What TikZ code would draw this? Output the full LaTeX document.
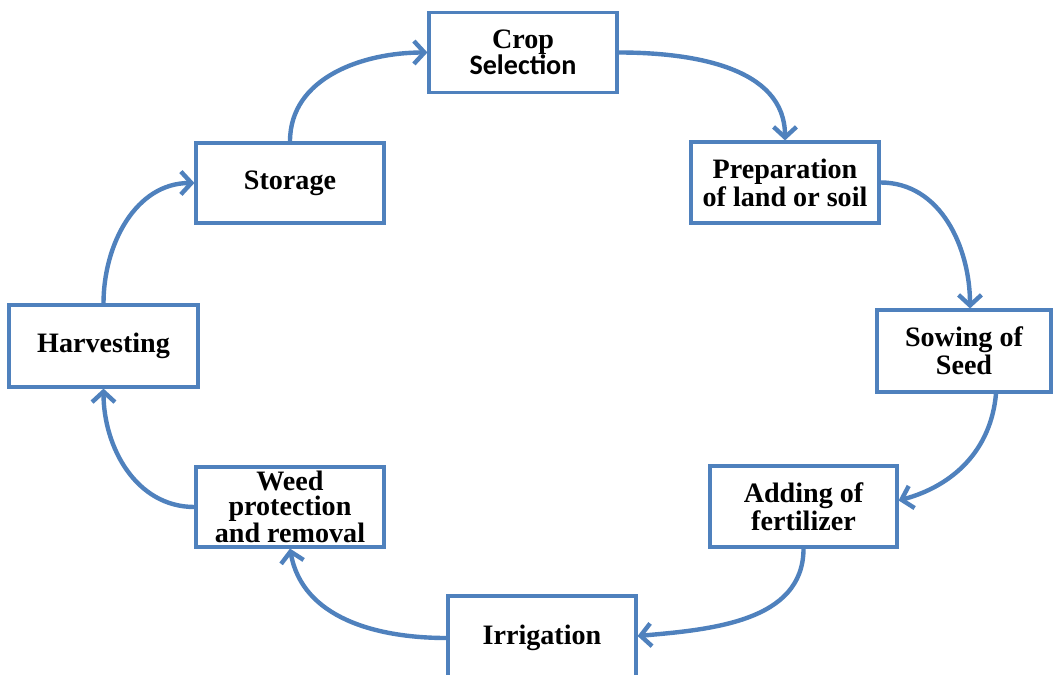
\documentclass[tikz,border=0pt]{standalone}
\usepackage{fontspec}
\setmainfont{Liberation Serif}
\newfontfamily\carlitofont{Carlito}
\usetikzlibrary{arrows.meta,calc}
\definecolor{officeblue}{HTML}{4F81BD}
\tikzset{
  stagebox/.style={draw=officeblue, line width=1.8pt, fill=white, inner sep=0pt,
    align=center, font=\bfseries\fontsize{16}{16}\selectfont, text=black},
  flow/.style={draw=officeblue, line width=2.5pt,
    -{Straight Barb[length=6pt,width=13pt]}}
}
\begin{document}
\begin{tikzpicture}[x=0.02cm,y=-0.02cm]
\useasboundingbox[fill=white] (0,0) rectangle (1054,675);
\clip (0,0) rectangle (1054,675);
\node[stagebox, minimum width=188*0.02cm, minimum height=80*0.02cm] (crop) at (523,52.5) {Crop\\[-1pt]{\carlitofont Selection}};
\node[stagebox, minimum width=188*0.02cm, minimum height=80*0.02cm] (storage) at (290,183) {Storage};
\node[stagebox, minimum width=188*0.02cm, minimum height=81*0.02cm] (prep) at (785,182.5) {Preparation\\of land or soil};
\node[stagebox, minimum width=174*0.02cm, minimum height=82*0.02cm] (sow) at (964,351) {Sowing of\\Seed};
\node[stagebox, minimum width=187*0.02cm, minimum height=81*0.02cm] (add) at (803.5,506.5) {Adding of\\fertilizer};
\node[stagebox, minimum width=188*0.02cm, minimum height=84*0.02cm] (irr) at (542,638) {Irrigation};
\node[stagebox, minimum width=188*0.02cm, minimum height=80*0.02cm, font=\bfseries\fontsize{16}{14.2}\selectfont] (weed) at (290,507) {Weed\\protection\\and removal};
\node[stagebox, minimum width=189*0.02cm, minimum height=82*0.02cm] (harv) at (103.5,346) {Harvesting};

\draw[flow] (harv.north) to[out=90,in=180] (storage.west);
\draw[flow] (storage.north) to[out=90,in=180] (crop.west);
\draw[flow] (crop.east) to[out=0,in=90] (prep.north);
\draw[flow] (prep.east) to[out=0,in=90] ($(sow.north)+(6,0)$);
\draw[flow] ($(sow.south)+(32,0)$) to[out=-95,in=15] ($(add.east)+(0,-6)$);
\draw[flow] (add.south) to[out=-90,in=5] ($(irr.east)+(0,-2)$);
\draw[flow] (irr.west) to[out=180,in=-80] (weed.south);
\draw[flow] (weed.west) to[out=180,in=-90] (harv.south);
\end{tikzpicture}
\end{document}
